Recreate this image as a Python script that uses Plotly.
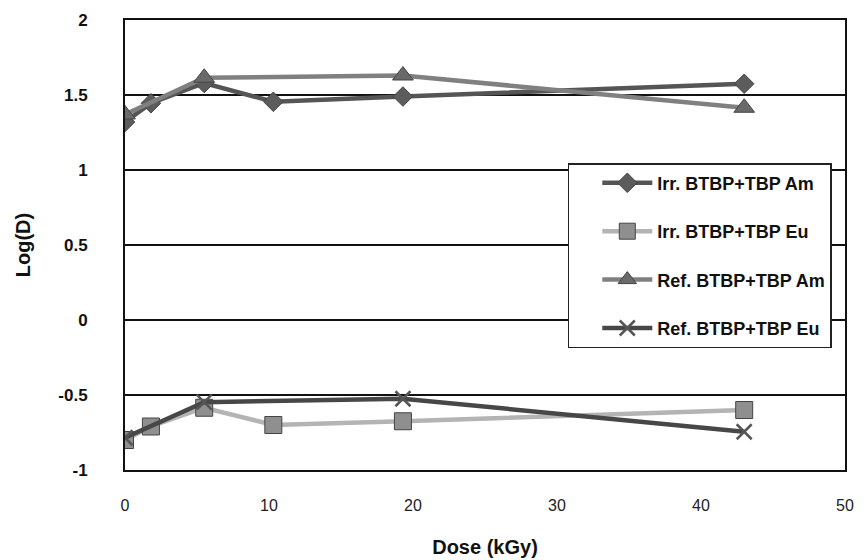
import plotly.graph_objects as go

# Dose (kGy) and Log(D) values per series
irr_x = [0, 1.8, 5.5, 10.3, 19.3, 43]
irr_am = [1.32, 1.445, 1.58, 1.455, 1.49, 1.575]
irr_eu = [-0.80, -0.71, -0.585, -0.70, -0.675, -0.60]

ref_x = [0, 5.5, 19.3, 43]
ref_am = [1.37, 1.615, 1.63, 1.415]
ref_eu = [-0.785, -0.548, -0.525, -0.745]

names = ["Irr. BTBP+TBP Am", "Irr. BTBP+TBP Eu", "Ref. BTBP+TBP Am", "Ref. BTBP+TBP Eu"]

y_ticks = [-1, -0.5, 0, 0.5, 1, 1.5, 2]
y_tick_text = ["-1", "-0.5", "0", "0.5", "1", "1.5", "2"]

fig = go.Figure()

series = [
    (irr_x, irr_am, names[0], "#555555", "diamond", "#5c5c5c", 15),
    (irr_x, irr_eu, names[1], "#b4b4b4", "square", "#8f8f8f", 17),
    (ref_x, ref_am, names[2], "#808080", "triangle-up", "#6a6a6a", 18),
    (ref_x, ref_eu, names[3], "#474747", "x-thin", "#555555", 15),
]

for i, (xs, ys, nm, lc, sym, mc, ms) in enumerate(series):
    marker = dict(symbol=sym, size=ms, color=mc,
                  line=dict(color="#444444" if sym != "x-thin" else mc,
                            width=1 if sym != "x-thin" else 2.5))
    fig.add_trace(go.Scatter(
        x=xs, y=ys, name=nm, mode="lines+markers",
        line=dict(color=lc, width=4.5),
        marker=marker, legendgroup=f"g{i}",
    ))

axis_common = dict(
    showline=True, linecolor="#111111", linewidth=2, mirror=True,
    ticks="", zeroline=False, automargin=False,
)

fig.update_layout(
    width=864, height=560,
    margin=dict(l=125, r=19, t=20, b=90),
    paper_bgcolor="white", plot_bgcolor="white",
    font=dict(family="Liberation Sans, Arial, sans-serif", color="#111111"),
    xaxis=dict(
        range=[0, 50], dtick=10, showgrid=False,
        tickfont=dict(size=16, color="#222222"),
        ticklabelstandoff=20,
        title=dict(text="<b>Dose (kGy)</b>", font=dict(size=20), standoff=27),
        **axis_common,
    ),
    yaxis=dict(
        range=[-1, 2], tickvals=y_ticks, ticktext=y_tick_text,
        showgrid=True, gridcolor="#111111", gridwidth=1.5,
        tickfont=dict(size=17, color="#111111", weight="bold"),
        ticklabelstandoff=32,
        title=dict(text="<b>Log(D)</b>", font=dict(size=20), standoff=22),
        **axis_common,
    ),
    legend=dict(
        x=0.615, y=0.682, xanchor="left", yanchor="top",
        bgcolor="white", bordercolor="#222222", borderwidth=1.5,
        font=dict(size=18, weight="bold", color="#111111"),
        traceorder="grouped", tracegroupgap=22, itemwidth=50,
        indentation=28,
    ),
)

fig.write_html("out.html")
